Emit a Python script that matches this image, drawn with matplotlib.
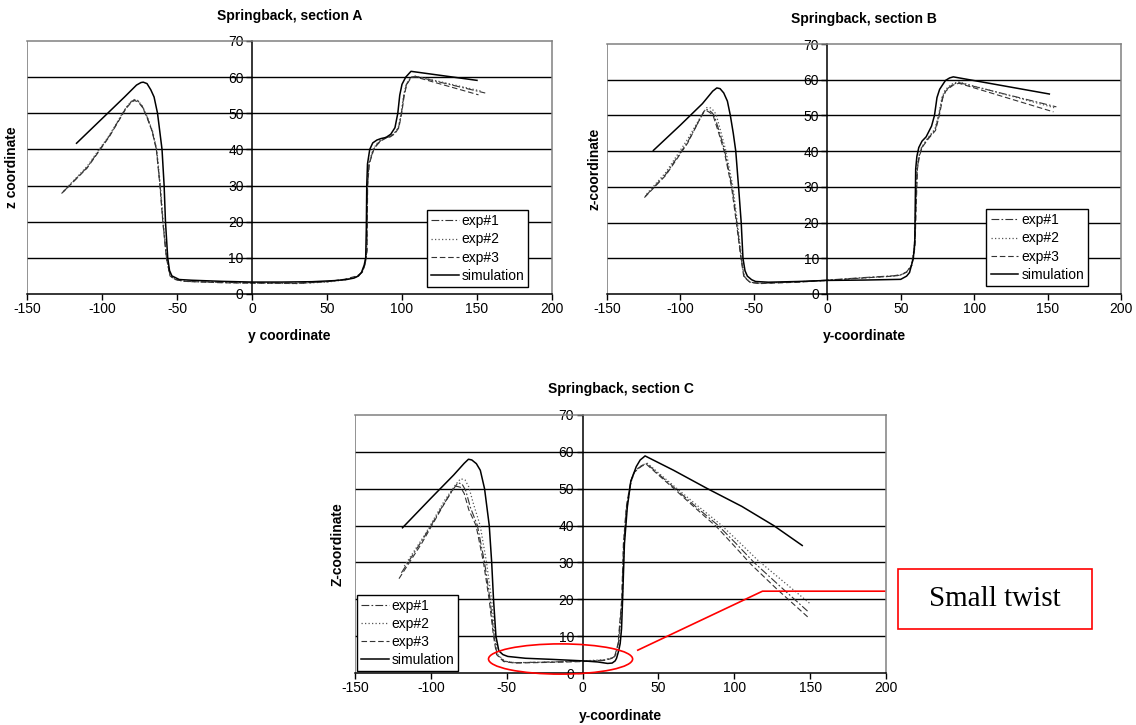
import matplotlib
matplotlib.use("Agg")
import matplotlib.pyplot as plt
from matplotlib.patches import Ellipse, Rectangle

plt.rcParams['font.family'] = ['Liberation Sans', 'DejaVu Sans']
plt.rcParams['axes.unicode_minus'] = False

# ---- section A ----
a_sim_y = [-117, -100, -85, -77, -74, -72.5, -70, -67.5, -65.3, -63, -61.5, -60, -58.6, -57.7,
           -56.2, -55, -53.4, -48.5, -40, -20, 0, 20, 40, 55, 63, 68, 71, 73, 74.8, 75.8, 76.2,
           76.5, 77, 78.5, 80.5, 83.3, 86, 89.3, 92.5, 95.3, 97.2, 98.5, 100, 102.5, 106, 150]
a_sim_z = [41.7, 48.5, 54.5, 57.8, 58.5, 58.6, 58.2, 56.5, 54.5, 50, 45, 40, 30, 20,
           10, 6.5, 5, 4, 3.8, 3.5, 3.3, 3.3, 3.4, 3.7, 4.0, 4.4, 5.0, 6.0, 8.0, 10, 18,
           30, 36, 40, 41.8, 42.6, 43.0, 43.3, 44.2, 46, 50, 55, 58, 60, 61.6, 59.1]

a_exp1_y = [-126, -110, -95, -84, -80.5, -78.5, -76, -73, -70, -66.5, -63.7, -61.3, -59.4, -57,
            -54.6, -51, -45, -20, 0, 30, 50, 62, 70, 73.5, 75.5, 76.6, 77, 78, 81, 83.5, 86,
            89, 91.7, 95, 97.7, 99.6, 101.3, 103, 106, 109.2, 155.5]
a_exp1_z = [28.2, 35, 43.8, 51.5, 53.2, 53.7, 53.4, 51.8, 49, 45, 40, 30, 20, 10,
            5, 4, 3.5, 3.2, 3.1, 3.0, 3.4, 4.0, 4.8, 6, 8.5, 12, 30, 36, 40, 41.5, 42.5,
            43.2, 43.5, 44.4, 46, 50, 55, 58, 60, 60.2, 55.6]
a_exp2_y = [-125.5, -110, -95, -84, -80.5, -78.5, -76, -73, -70, -66.3, -63.5, -61.1, -59.2, -56.9,
            -54.5, -51, -45, -20, 0, 30, 50, 62, 70, 73.3, 75.3, 76.4, 76.9, 77.8, 80.7, 83.2,
            85.8, 88.8, 91.5, 94.8, 97.5, 99.4, 101.1, 102.8, 105.8, 109, 153]
a_exp2_z = [28.5, 35.3, 44, 51.6, 53.3, 53.8, 53.5, 51.9, 49.2, 45, 40, 30, 20, 10,
            5, 4, 3.5, 3.2, 3.0, 2.9, 3.3, 3.9, 4.7, 6, 8.5, 12, 30, 36, 40, 41.6, 42.6,
            43.3, 43.6, 44.5, 46, 50, 55, 58, 60, 60.3, 56.1]
a_exp3_y = [-127, -110, -95, -84, -80.5, -78.5, -76, -73, -70, -66.6, -63.8, -61.4, -59.5, -57.1,
            -54.7, -51, -45, -20, 0, 30, 50, 62, 70, 73.6, 75.6, 76.7, 77.1, 78.2, 81.2, 83.7,
            86.2, 89.2, 91.9, 95.2, 97.9, 99.8, 101.5, 103.2, 106.2, 109.4, 151]
a_exp3_z = [27.8, 34.8, 43.6, 51.3, 53, 53.5, 53.2, 51.6, 48.8, 45, 40, 30, 20, 10,
            5, 4, 3.5, 3.1, 3.0, 2.9, 3.4, 4.1, 5.0, 6, 8.5, 12, 30, 36, 40, 41.4, 42.4,
            43.1, 43.4, 44.3, 46, 50, 55, 58, 59.9, 60.0, 55.1]

# ---- section B ----
b_sim_y = [-118.4, -100, -85, -78, -75.2, -73, -70.5, -68, -66, -64, -62.3, -60.4, -58.6, -57.4,
           -56, -54.4, -51.5, -48.8, -40, -20, 0, 25, 50, 54, 56, 58.6, 59.6, 59.9, 60.2,
           61, 62.3, 64.5, 67.3, 71, 73, 74.7, 76.5, 78.4, 80.5, 83.3, 85.8, 151.2]
b_sim_z = [40.2, 47.3, 53.3, 56.8, 57.7, 57.5, 56.3, 54, 50, 45, 40, 30, 20, 10,
           6.5, 5, 4, 3.5, 3.3, 3.5, 3.8, 3.9, 4.1, 5, 6, 10, 15, 25, 35,
           38.5, 41, 42.8, 44, 47, 50, 55, 57.3, 58.5, 59.8, 60.5, 60.8, 56]

b_exp1_y = [-124, -110, -95, -86, -83.3, -81, -78.5, -77, -73.5, -69.8, -64.8, -61.6, -58.6, -56.7,
            -54.5, -52.5, -46.3, -20, 0, 25, 45, 50, 54, 57.4, 59.5, 60.4, 61.2, 62.5, 64.3,
            68.5, 73.5, 76, 78.4, 80.5, 83.3, 86, 89.5, 156]
b_exp1_z = [27.3, 33.5, 42.6, 49.5, 51.6, 51.6, 50.8, 50, 45.5, 40, 30, 20, 10, 5,
            4, 3.3, 3.0, 3.4, 3.9, 4.6, 5.1, 5.4, 6.2, 8, 13, 25, 35, 38.5, 41,
            43.5, 46, 50, 55, 57, 58, 58.8, 59.2, 52.4]
b_exp2_y = [-123, -110, -95, -85, -82, -79.5, -77, -75.5, -72.5, -69, -64.2, -61.2, -58.3, -56.5,
            -54.3, -52.3, -46, -20, 0, 25, 45, 50, 54, 57.2, 59.3, 60.2, 61, 62.3, 64.1,
            68.3, 73.3, 75.8, 78.2, 80.3, 83.1, 85.8, 89.3, 156]
b_exp2_z = [28, 34, 43.4, 50.5, 52.2, 52.1, 51.2, 50, 45.5, 40, 30, 20, 10, 5,
            4, 3.3, 3.0, 3.4, 3.8, 4.5, 5.0, 5.3, 6.1, 8, 13, 25, 35, 38.5, 41,
            43.6, 46.2, 50.2, 55.2, 57.2, 58.2, 59, 59.4, 52.0]
b_exp3_y = [-124.5, -110, -95, -86.5, -83.8, -81.5, -79, -77.5, -74, -70.2, -65.2, -61.9, -58.8, -56.9,
            -54.7, -52.7, -46.5, -20, 0, 25, 45, 50, 54, 57.6, 59.7, 60.6, 61.4, 62.7, 64.5,
            68.7, 73.7, 76.2, 78.6, 80.7, 83.5, 86.2, 89.7, 154]
b_exp3_z = [27, 33.2, 42.3, 49.2, 51.2, 51.2, 50.5, 49.7, 45.2, 40, 30, 20, 10, 5,
            4, 3.3, 2.9, 3.3, 3.8, 4.5, 5.0, 5.3, 6.1, 8, 13, 25, 35, 38.5, 41,
            43.4, 45.8, 49.8, 54.8, 56.8, 57.8, 58.6, 59.0, 51.0]

# ---- section C ----
c_sim_y = [-118.7, -100, -85, -78, -75.2, -73, -70, -67.4, -64.6, -61.5, -59.9, -58.7, -57.1, -55.2,
           -52.5, -49.3, -37.6, -20, 0, 10, 16.5, 19.5, 21.5, 22.4, 23.8, 24.8, 25.7, 26.4,
           27.6, 29.5, 31.8, 35.4, 38, 40.1, 41.2, 60, 82.4, 105, 126, 144.8]
c_sim_z = [39.4, 47.4, 53.7, 56.9, 58, 57.8, 56.8, 55, 50, 40, 30, 20, 10, 6,
           5, 4.5, 4, 3.7, 3.3, 3.0, 2.6, 2.7, 3.3, 4, 6, 8, 12, 20,
           35, 45, 52, 56, 57.8, 58.5, 58.9, 55, 50, 45.2, 40, 34.6]

c_exp1_y = [-119.4, -105, -92, -85, -82.2, -79.5, -77, -74, -69.3, -64.6, -61, -58.3, -56.4,
            -51.7, -44.6, -20, 0, 14.2, 19, 21.3, 23.6, 26, 27.1, 29, 31.8, 34, 36.5, 39.5,
            42.4, 50, 61.2, 75, 89.5, 101, 113, 130, 148.3]
c_exp1_z = [27.2, 36.5, 45.5, 50, 51.6, 51.3, 49.5, 45, 40, 30, 20, 10, 5,
            3.2, 2.8, 3.0, 3.2, 3.5, 4, 4.5, 8, 20, 35, 45, 52, 54.5, 55.5, 56.4,
            56.8, 54, 50, 45, 40, 35.2, 30, 23.6, 16.8]
c_exp2_y = [-117.5, -104, -91, -83.5, -80.4, -77.5, -75, -72, -67.5, -63.3, -60, -57.6, -55.8,
            -51.3, -44.3, -20, 0, 14.5, 19.3, 21.6, 23.9, 26.3, 27.4, 29.3, 32.1, 34.3, 36.8, 39.8,
            42.7, 50.3, 61.8, 76, 91, 103, 115.5, 133, 150.6]
c_exp2_z = [29, 37.5, 46.8, 51.2, 52.7, 52.4, 50.5, 46, 40, 30, 20, 10, 5,
            3.2, 2.8, 3.0, 3.3, 3.6, 4.1, 4.6, 8, 20, 35, 45, 52, 54.5, 55.6, 56.5,
            56.9, 54.2, 50.2, 45.3, 40.3, 35.6, 30.6, 24.6, 18.6]
c_exp3_y = [-121, -106, -93, -86.5, -83.4, -80.5, -78, -75, -70.2, -65.3, -61.6, -58.7, -56.7,
            -52, -44.8, -20, 0, 14, 18.8, 21.1, 23.4, 25.8, 26.9, 28.8, 31.6, 33.8, 36.3, 39.3,
            42.2, 49.8, 60.8, 74.5, 88.5, 99.5, 111, 128, 149]
c_exp3_z = [25.6, 35.2, 44.6, 49.2, 50.7, 50.4, 48.7, 44.3, 40, 30, 20, 10, 5,
            3.1, 2.7, 2.9, 3.1, 3.4, 3.9, 4.4, 8, 20, 35, 45, 51.8, 54.3, 55.3, 56.2,
            56.6, 53.8, 49.8, 44.7, 39.6, 34.7, 29.5, 22.8, 15]

series_labels = ['exp#1', 'exp#2', 'exp#3', 'simulation']
y_ticks = [-150, -100, -50, 0, 50, 100, 150, 200]
z_ticks = [0, 10, 20, 30, 40, 50, 60, 70]

# annotation (section C data coords)
twist_center = (-14.5, 3.8)
twist_size = (95, 8.2)
pointer_y = [36.4, 118.6, 199]
pointer_z = [6.2, 22.2, 22.2]

exp_styles = [
    dict(linestyle=(0, (7, 2, 1.5, 2)), color='#333333', lw=0.8),
    dict(linestyle=(0, (1, 1.8)), color='#555555', lw=0.9),
    dict(linestyle=(0, (5, 2.5)), color='#333333', lw=0.8),
]
sim_style = dict(linestyle='-', color='black', lw=1.1)
FS = 10


def draw_section(ax, exps, sim, title, xlabel, ylabel, ylab_x, legend_kw):
    for (y, z), st, lab in zip(exps, exp_styles, series_labels[:3]):
        ax.plot(y, z, label=lab, **st)
    ax.plot(sim[0], sim[1], label=series_labels[3], **sim_style)

    ax.set_xlim(y_ticks[0], y_ticks[-1])
    ax.set_ylim(z_ticks[0], z_ticks[-1])
    ax.set_xticks(y_ticks)
    ax.set_yticks(z_ticks)
    for z in z_ticks[1:-1]:
        ax.axhline(z, color='black', lw=1.0, zorder=0.5)
    ax.axvline(y_ticks[0], color='#808080', lw=1.2, zorder=0.5)

    ax.spines['left'].set_position(('data', 0))
    ax.spines['left'].set_color('black')
    ax.spines['bottom'].set_color('black')
    ax.spines['top'].set_color('#808080')
    ax.spines['right'].set_color('#808080')
    for s in ax.spines.values():
        s.set_linewidth(1.1)
    ax.tick_params(axis='both', direction='out', length=4, width=1, labelsize=FS, pad=2)

    ax.text(0.5, 1.1, title, transform=ax.transAxes, ha='center', va='center',
            fontsize=FS, fontweight='bold')
    ax.set_xlabel(xlabel, fontsize=FS, fontweight='bold')
    ax.set_ylabel(ylabel, fontsize=FS, fontweight='bold')
    ax.xaxis.set_label_coords(0.5, -0.14)
    ax.yaxis.set_label_coords(ylab_x, 0.5)

    leg = ax.legend(fontsize=FS, frameon=True, fancybox=False, framealpha=1,
                    edgecolor='black', borderpad=0.3, labelspacing=0.3,
                    handlelength=2.0, handletextpad=0.2, borderaxespad=0, **legend_kw)
    leg.get_frame().set_linewidth(1.0)
    leg.set_zorder(5)


fig = plt.figure(figsize=(11.36, 7.25), dpi=100)
ax_a = fig.add_axes([0.0238, 0.5945, 0.4621, 0.349])
ax_b = fig.add_axes([0.5343, 0.5945, 0.4525, 0.3448])
ax_c = fig.add_axes([0.3125, 0.0717, 0.4674, 0.3559])

draw_section(ax_a, [(a_exp1_y, a_exp1_z), (a_exp2_y, a_exp2_z), (a_exp3_y, a_exp3_z)],
             (a_sim_y, a_sim_z), 'Springback, section A', 'y coordinate', 'z coordinate',
             -0.015, dict(loc='lower right', bbox_to_anchor=(0.955, 0.028)))
draw_section(ax_b, [(b_exp1_y, b_exp1_z), (b_exp2_y, b_exp2_z), (b_exp3_y, b_exp3_z)],
             (b_sim_y, b_sim_z), 'Springback, section B', 'y-coordinate', 'z-coordinate',
             -0.01, dict(loc='lower right', bbox_to_anchor=(0.936, 0.032)))
draw_section(ax_c, [(c_exp1_y, c_exp1_z), (c_exp2_y, c_exp2_z), (c_exp3_y, c_exp3_z)],
             (c_sim_y, c_sim_z), 'Springback, section C', 'y-coordinate', 'Z-coordinate',
             -0.019, dict(loc='lower left', bbox_to_anchor=(0.003, 0.006)))

# "small twist" annotation
ax_c.add_patch(Ellipse(twist_center, twist_size[0], twist_size[1], fill=False,
                       edgecolor='red', lw=1.2, clip_on=False, zorder=6))
ax_c.plot(pointer_y, pointer_z, color='red', lw=1.2, clip_on=False, zorder=6)
fig.patches.append(Rectangle((0.7905, 0.1324), 0.1708, 0.0828, transform=fig.transFigure,
                             fill=False, edgecolor='red', lw=1.2))
fig.text(0.7905 + 0.1708 / 2, 0.1324 + 0.0828 / 2, 'Small twist', ha='center', va='center',
         fontsize=21, family=['Liberation Serif', 'DejaVu Serif'])

fig.savefig('out.png', dpi=100)
